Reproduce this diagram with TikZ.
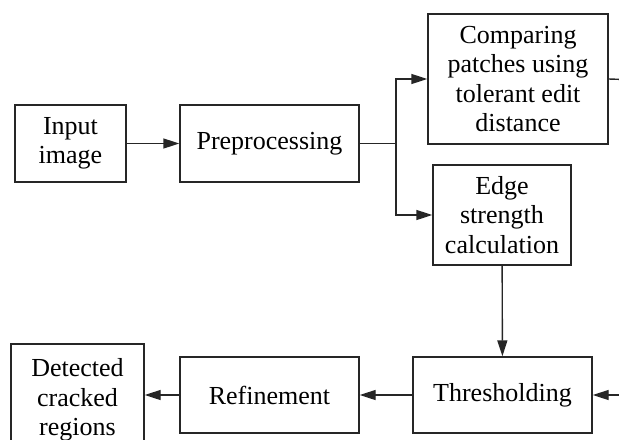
\documentclass[tikz,border=0pt]{standalone}
\usepackage{fontspec}
\setmainfont{Liberation Serif}
\usetikzlibrary{arrows.meta}

\tikzset{
  block/.style={draw=black!85, line width=0.7pt, align=center, inner sep=2pt,
    font=\fontsize{13}{14.75}\selectfont},
  flow/.style={-{Triangle[length=8pt,width=5pt]}, line width=0.7pt, draw=black!85},
  wire/.style={line width=0.7pt, draw=black!85},
}

\begin{document}
\begin{tikzpicture}[x=0.5pt,y=-0.5pt]
        \clip (0,0) rectangle (619,439);

        \node[block, minimum width=55.5pt, minimum height=38.5pt] at (70.5,143.5) (input) {Input\\image};
        \node[block, minimum width=89.5pt, minimum height=38.5pt] at (269.5,143.5) (pre) {Preprocessing};

        \node[block, minimum width=90pt, minimum height=65pt] at (518,79) (cmp) {Comparing\\patches using\\tolerant edit\\distance};
        \node[block, minimum width=69pt, minimum height=50pt] at (502,215) (edge) {Edge\\strength\\calculation};

        \node[block, minimum width=89.5pt, minimum height=38pt] at (502.5,395) (thr) {Thresholding};
        \node[block, minimum width=89.5pt, minimum height=38pt] at (269.5,395) (ref) {Refinement};
        \node[block, minimum width=66.5pt, minimum height=56pt] at (77.5,400) (det) {Detected\\cracked\\regions};

        \coordinate (split) at (396,143.5);
        \coordinate (cmpout) at (640,80);
        \coordinate (thrin) at (640,395);

        \draw[flow] (input) -- (pre);
        \draw[wire] (pre) -- (split);
        \draw[flow] (split) |- (cmp.west);
        \draw[flow] (split) |- (edge.west);
        \draw[wire] (cmp.east) -- (cmpout);

        \draw[flow] (edge) -- (thr);
        \draw[flow] (thrin) -- (thr);
        \draw[flow] (thr) -- (ref);
        \draw[flow] (ref) -- (det.east |- ref);
\end{tikzpicture}
\end{document}
